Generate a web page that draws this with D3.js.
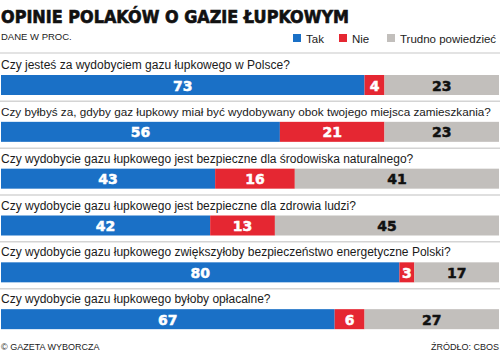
<!DOCTYPE html>
<html>
<head>
<meta charset="utf-8">
<script src="https://cdn.jsdelivr.net/npm/d3@7"></script>
<style>
  body { margin: 0; background: #fff; }
</style>
</head>
<body>
<div id="chart"></div>
<script>
'use strict';

const questions = [
  'Czy jesteś za wydobyciem gazu łupkowego w Polsce?',
  'Czy byłbyś za, gdyby gaz łupkowy miał być wydobywany obok twojego miejsca zamieszkania?',
  'Czy wydobycie gazu łupkowego jest bezpieczne dla środowiska naturalnego?',
  'Czy wydobycie gazu łupkowego jest bezpieczne dla zdrowia ludzi?',
  'Czy wydobycie gazu łupkowego zwiększyłoby bezpieczeństwo energetyczne Polski?',
  'Czy wydobycie gazu łupkowego byłoby opłacalne?'
]
const tak = [73, 56, 43, 42, 80, 67]
const nie = [4, 21, 16, 13, 3, 6]
const trudno = [23, 23, 41, 45, 17, 27]
const answers = ['Tak', 'Nie', 'Trudno powiedzieć']
const colors = ['#1a70c6', '#e52732', '#c2bfbc']
const label_colors = ['#fff', '#fff', '#111']

const width = 500
const height = 353

const svg = d3.select('#chart').append('svg')
  .attr('width', width)
  .attr('height', height)
  .style('font-family', 'Liberation Sans, Arial, sans-serif')

// title
svg.append('text')
  .attr('x', 1)
  .attr('y', 23)
  .attr('textLength', 348)
  .attr('lengthAdjust', 'spacingAndGlyphs')
  .style('font-size', '18px')
  .style('font-weight', 900)
  .style('font-family', 'DejaVu Sans, sans-serif')
  .attr('fill', '#111')
  .attr('stroke', '#111')
  .attr('stroke-width', 0.7)
  .text('OPINIE POLAKÓW O GAZIE ŁUPKOWYM')

svg.append('text')
  .attr('x', 1)
  .attr('y', 40)
  .style('font-size', '9.5px')
  .attr('fill', '#222')
  .text('DANE W PROC.')

// legend
const legend_x = [293, 339, 387]
const legend = svg.append('g')
  .selectAll('g')
  .data(answers)
  .join('g')
  .attr('transform', (d, i) => `translate(${legend_x[i]},34)`)
legend.append('rect')
  .attr('width', 8)
  .attr('height', 8)
  .attr('fill', (d, i) => colors[i])
legend.append('text')
  .attr('x', 13)
  .attr('y', 8.5)
  .style('font-size', '11.5px')
  .attr('fill', '#222')
  .text(d => d)

svg.append('line')
  .attr('x1', 0).attr('x2', width)
  .attr('y1', 53).attr('y2', 53)
  .attr('stroke', '#c8c8c8')
  .attr('stroke-width', 1.2)

// scales
const xScale = d3.scaleLinear().domain([0, 100]).range([1, 499])
const yScale = d3.scaleBand()
  .domain(d3.range(questions.length))
  .range([56, 337])

const rows = questions.map((q, i) => {
  const vals = [tak[i], nie[i], trudno[i]]
  let acc = 0
  const segs = vals.map((v, j) => {
    const s = { start: acc, end: acc + v, value: v, k: j }
    acc += v
    return s
  })
  return { q: q, segs: segs, i: i }
})

const row_g = svg.append('g')
  .selectAll('g')
  .data(rows)
  .join('g')
  .attr('transform', d => `translate(0,${yScale(d.i)})`)

row_g.append('text')
  .attr('x', 1)
  .attr('y', 13)
  .style('font-size', '12px')
  .attr('fill', '#1a1a1a')
  .text(d => d.q)
  .each(function(){
    // shrink the long question so it stays inside the picture
    const len = this.getComputedTextLength()
    if(len > 490){
      d3.select(this).style('font-size', (12 * 490 / len).toFixed(2) + 'px')
    }
  })

row_g.selectAll('rect')
  .data(d => d.segs)
  .join('rect')
  .attr('x', d => xScale(d.start))
  .attr('width', d => xScale(d.end) - xScale(d.start))
  .attr('y', 19)
  .attr('height', 20)
  .attr('fill', d => colors[d.k])

row_g.selectAll('text.val')
  .data(d => d.segs)
  .join('text')
  .attr('class', 'val')
  .attr('x', d => (xScale(d.start) + xScale(d.end)) / 2)
  .attr('y', 34.5)
  .attr('text-anchor', 'middle')
  .style('font-size', '14px')
  .style('font-weight', 900)
  .style('font-family', 'DejaVu Sans, sans-serif')
  .attr('fill', d => label_colors[d.k])
  .attr('stroke', d => label_colors[d.k])
  .attr('stroke-width', 0.5)
  .text(d => d.value)

// separators between rows
svg.append('g')
  .selectAll('line')
  .data(d3.range(1, questions.length))
  .join('line')
  .attr('x1', 0).attr('x2', width)
  .attr('y1', d => yScale(d) - 1.5)
  .attr('y2', d => yScale(d) - 1.5)
  .attr('stroke', '#d4d4d4')
  .attr('stroke-width', 1.5)

// footer
svg.append('text')
  .attr('x', 1)
  .attr('y', 350)
  .style('font-size', '9px')
  .attr('fill', '#222')
  .text('© GAZETA WYBORCZA')

svg.append('text')
  .attr('x', 499)
  .attr('y', 350)
  .attr('text-anchor', 'end')
  .style('font-size', '9px')
  .attr('fill', '#222')
  .text('ŹRÓDŁO: CBOS')
</script>
</body>
</html>
